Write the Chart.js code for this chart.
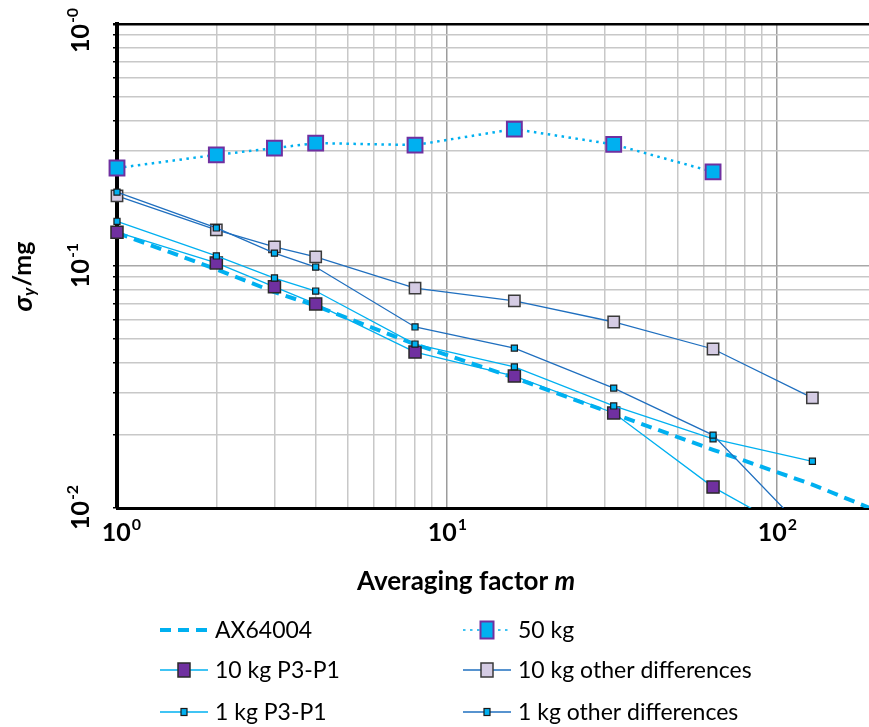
<!DOCTYPE html>
<html>
<head>
<meta charset="utf-8">
<script src="https://cdn.jsdelivr.net/npm/chart.js@4/dist/chart.umd.min.js"></script>
<style>
  html, body { margin: 0; padding: 0; background: #fff; }
  #wrap { width: 869px; height: 727px; }
</style>
</head>
<body>
<div id="wrap"><canvas id="chart" width="869" height="727"></canvas></div>
<script>
// averaging factors m
const factors = [1, 2, 3, 4, 8, 16, 32, 64, 128];
const axFactors = [1, 2, 3, 4, 8, 16, 32, 64, 128, 256];

// sigma_y in mg
const ax64004 = [0.137, 0.097, 0.078, 0.0685, 0.0475, 0.0345, 0.0245, 0.0174, 0.0125, 0.0085];
const kg50 = [0.254, 0.288, 0.307, 0.322, 0.316, 0.368, 0.318, 0.245];
const kg10P3P1 = [0.138, 0.103, 0.082, 0.0697, 0.0441, 0.0351, 0.0247, 0.0122, 0.0072];
const kg10Other = [0.195, 0.141, 0.12, 0.109, 0.081, 0.0717, 0.0587, 0.0454, 0.0285];
const kg1P3P1 = [0.153, 0.110, 0.0892, 0.0788, 0.0476, 0.0383, 0.0264, 0.0193, 0.0156];
const kg1Other = [0.202, 0.1436, 0.113, 0.099, 0.056, 0.0458, 0.0313, 0.0200, 0.0075];

// grid positions
const xTicks = [1, 2, 3, 4, 5, 6, 7, 8, 9, 10, 20, 30, 40, 50, 60, 70, 80, 90, 100];
const yTicks = [0.01, 0.02, 0.03, 0.04, 0.05, 0.06, 0.07, 0.08, 0.09,
                0.1, 0.2, 0.3, 0.4, 0.5, 0.6, 0.7, 0.8, 0.9, 1];
// [value, exponent text, nudge]
const xLabels = [[1, '0', 4], [10, '1', 0], [100, '2', 0]];
const yLabels = [[1, '-0', 7], [0.1, '-1', 0], [0.01, '-2', 0]];

const CYAN = '#00B0F0';
const DARK = '#1F6FBF';
const FONT = 'Lato, "Open Sans", sans-serif';

function pts(xs, ys) {
  return ys.map((v, i) => ({ x: xs[i], y: v }));
}

function isDecade(v) {
  const l = Math.log10(v);
  return Math.abs(l - Math.round(l)) < 1e-9;
}

// "10" with superscript exponent, centred on (0,0)
function drawPow(ctx, exp) {
  ctx.font = 'bold 25px ' + FONT;
  const w1 = ctx.measureText('10').width;
  ctx.font = 'bold 16px ' + FONT;
  const w2 = ctx.measureText(exp).width;
  const x0 = -(w1 + w2) / 2;
  ctx.fillStyle = '#000';
  ctx.textBaseline = 'middle';
  ctx.textAlign = 'left';
  ctx.font = 'bold 25px ' + FONT;
  ctx.fillText('10', x0, 0);
  ctx.font = 'bold 16px ' + FONT;
  ctx.fillText(exp, x0 + w1 + 1, -8);
}

const labelPlugin = {
  id: 'labels',
  afterDraw(chart) {
    const ctx = chart.ctx;
    const xs = chart.scales.x, ys = chart.scales.y;
    ctx.save();

    // x tick labels
    xLabels.forEach(([v, e, n]) => {
      ctx.save();
      ctx.translate(xs.getPixelForValue(v) + n, 533);
      drawPow(ctx, e);
      ctx.restore();
    });
    // y tick labels (rotated)
    yLabels.forEach(([v, e, n]) => {
      ctx.save();
      ctx.translate(81, ys.getPixelForValue(v) + n);
      ctx.rotate(-Math.PI / 2);
      drawPow(ctx, e);
      ctx.restore();
    });

    // x title
    ctx.fillStyle = '#000';
    ctx.textBaseline = 'middle';
    ctx.textAlign = 'left';
    ctx.font = 'bold 26px ' + FONT;
    const t1 = 'Averaging factor ';
    const w1 = ctx.measureText(t1).width;
    ctx.font = 'italic bold 26px ' + FONT;
    const w2 = ctx.measureText('m').width;
    let x0 = 466 - (w1 + w2) / 2;
    ctx.font = 'bold 26px ' + FONT;
    ctx.fillText(t1, x0, 582);
    ctx.font = 'italic bold 26px ' + FONT;
    ctx.fillText('m', x0 + w1, 582);

    // y title
    ctx.save();
    ctx.translate(23, 277);
    ctx.rotate(-Math.PI / 2);
    ctx.font = 'italic bold 27px ' + FONT;
    const ws = ctx.measureText('σ').width;
    ctx.font = 'italic bold 17px ' + FONT;
    const wy = ctx.measureText('y').width;
    ctx.font = 'bold 25px ' + FONT;
    const wm = ctx.measureText('/mg').width;
    x0 = -(ws + wy + wm) / 2;
    ctx.font = 'italic bold 27px ' + FONT;
    ctx.fillText('σ', x0, 0);
    ctx.font = 'italic bold 17px ' + FONT;
    ctx.fillText('y', x0 + ws, 7);
    ctx.font = 'bold 25px ' + FONT;
    ctx.fillText('/mg', x0 + ws + wy + 1, 0);
    ctx.restore();

    // legend, 2 columns x 3 rows
    const cols = [160, 463];
    const rows = [630, 670, 712];
    chart.data.datasets.forEach((ds, i) => {
      const lx = cols[i % 2], ly = rows[Math.floor(i / 2)];
      ctx.save();
      ctx.strokeStyle = ds.borderColor;
      ctx.lineWidth = ds.legendLine || ds.borderWidth;
      ctx.setLineDash(ds.borderDash || []);
      ctx.lineCap = 'butt';
      ctx.beginPath();
      ctx.moveTo(lx, ly);
      ctx.lineTo(lx + 48, ly);
      ctx.stroke();
      ctx.setLineDash([]);
      if (ds.legendBox) {
        const [bw, bh] = ds.legendBox;
        ctx.fillStyle = ds.pointBackgroundColor;
        ctx.strokeStyle = ds.pointBorderColor;
        ctx.lineWidth = ds.pointBorderWidth;
        ctx.fillRect(lx + 24 - bw / 2, ly - bh / 2, bw, bh);
        ctx.strokeRect(lx + 24 - bw / 2, ly - bh / 2, bw, bh);
      }
      ctx.fillStyle = '#000';
      ctx.font = '23px ' + FONT;
      ctx.textAlign = 'left';
      ctx.textBaseline = 'middle';
      ctx.fillText(ds.label, lx + 55, ly + 1);
      ctx.restore();
    });

    ctx.restore();
  }
};

const datasets = [
  {
    label: 'AX64004',
    data: pts(axFactors, ax64004),
    borderColor: CYAN,
    borderWidth: 4,
    borderDash: [11, 7],
    pointRadius: 0,
    legendLine: 4,
    order: 6
  },
  {
    label: '50 kg',
    data: pts(factors, kg50),
    borderColor: CYAN,
    borderWidth: 2.5,
    borderDash: [2.5, 4.5],
    pointStyle: 'rect',
    pointRadius: 10.5,
    pointBackgroundColor: CYAN,
    pointBorderColor: '#7030A0',
    pointBorderWidth: 2,
    legendBox: [13, 17],
    legendLine: 1.5,
    order: 5
  },
  {
    label: '10 kg P3-P1',
    data: pts(factors, kg10P3P1),
    borderColor: CYAN,
    borderWidth: 1.3,
    pointStyle: 'rect',
    pointRadius: 8.5,
    pointBackgroundColor: '#7030A0',
    pointBorderColor: '#2a2a2a',
    pointBorderWidth: 1.5,
    legendBox: [12, 14],
    order: 4
  },
  {
    label: '10 kg other differences',
    data: pts(factors, kg10Other),
    borderColor: DARK,
    borderWidth: 1.3,
    pointStyle: 'rect',
    pointRadius: 8,
    pointBackgroundColor: '#D5CCE4',
    pointBorderColor: '#3a3a3a',
    pointBorderWidth: 1.5,
    legendBox: [12, 14],
    order: 3
  },
  {
    label: '1 kg P3-P1',
    data: pts(factors, kg1P3P1),
    borderColor: CYAN,
    borderWidth: 1.3,
    pointStyle: 'rect',
    pointRadius: 4.3,
    pointBackgroundColor: CYAN,
    pointBorderColor: '#1a1a1a',
    pointBorderWidth: 1.2,
    legendBox: [6, 7],
    order: 2
  },
  {
    label: '1 kg other differences',
    data: pts(factors, kg1Other),
    borderColor: DARK,
    borderWidth: 1.3,
    pointStyle: 'rect',
    pointRadius: 4.3,
    pointBackgroundColor: CYAN,
    pointBorderColor: '#1a1a1a',
    pointBorderWidth: 1.2,
    legendBox: [6, 7],
    order: 1
  }
];

datasets.forEach(ds => {
  ds.tension = 0;
  ds.fill = false;
  ds.clip = { left: 20, top: 5, right: 0, bottom: 0 };
});

const chart = new Chart(document.getElementById('chart').getContext('2d'), {
  type: 'line',
  data: { datasets: datasets },
  options: {
    responsive: false,
    animation: false,
    layout: { autoPadding: false, padding: { top: 24, bottom: 219, left: 0, right: 0 } },
    plugins: { legend: { display: false }, tooltip: { enabled: false } },
    scales: {
      x: {
        type: 'logarithmic',
        min: 1,
        max: 190,
        afterBuildTicks: s => { s.ticks = xTicks.map(v => ({ value: v })); },
        afterFit: s => { s.height = 0; },
        ticks: { display: false },
        grid: {
          drawTicks: false,
          color: c => isDecade(c.tick.value) ? '#9c9c9c' : '#c8c8c8',
          lineWidth: 1.5
        },
        border: { color: '#000', width: 3 }
      },
      y: {
        type: 'logarithmic',
        min: 0.01,
        max: 1,
        afterBuildTicks: s => { s.ticks = yTicks.map(v => ({ value: v })); },
        afterFit: s => { s.width = 117; },
        ticks: { display: false },
        grid: {
          drawTicks: true,
          tickLength: 4,
          tickColor: '#000',
          color: c => Math.abs(c.tick.value - 1) < 1e-9 ? '#000' : (isDecade(c.tick.value) ? '#a8a8a8' : '#c8c8c8'),
          lineWidth: c => Math.abs(c.tick.value - 1) < 1e-9 ? 2.5 : 1.5
        },
        border: { color: '#000', width: 4 }
      }
    }
  },
  plugins: [labelPlugin]
});
</script>
</body>
</html>
